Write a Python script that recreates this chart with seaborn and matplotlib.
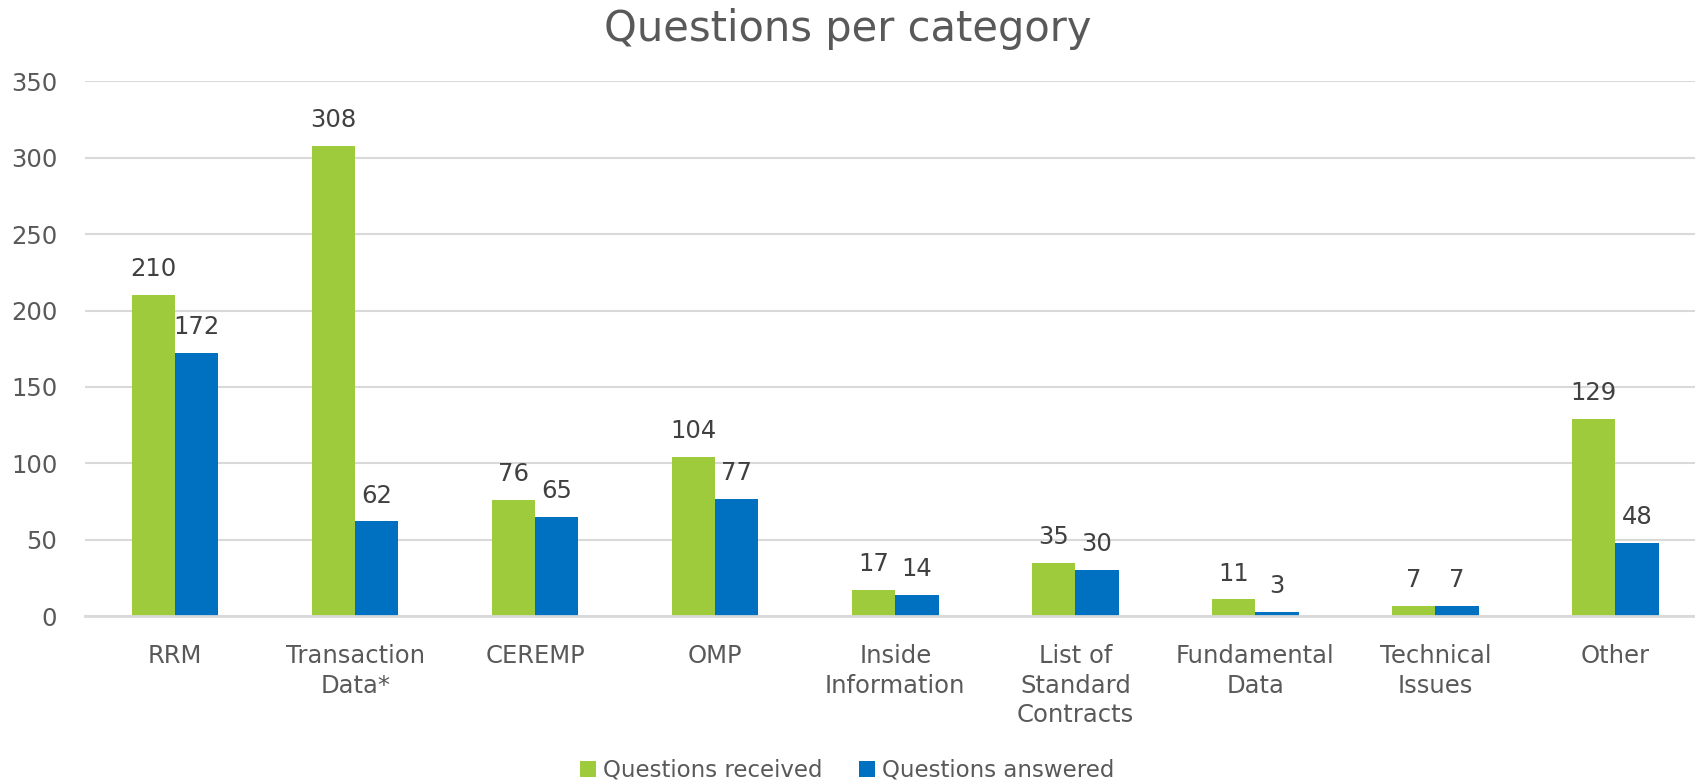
import pandas as pd
import matplotlib.pyplot as plt
import seaborn as sns

categories = ['RRM', 'Transaction\nData*', 'CEREMP', 'OMP', 'Inside\nInformation',
              'List of\nStandard\nContracts', 'Fundamental\nData', 'Technical\nIssues', 'Other']
received = [210, 308, 76, 104, 17, 35, 11, 7, 129]
answered = [172, 62, 65, 77, 14, 30, 3, 7, 48]
series = ['Questions received', 'Questions answered']

df = pd.DataFrame({
    'category': categories * 2,
    'value': received + answered,
    'series': [series[0]] * len(categories) + [series[1]] * len(categories),
})

sns.set_style('white')
plt.rcParams['font.family'] = ['DejaVu Sans']

fig = plt.figure(figsize=(16.95, 7.82), dpi=100)
ax = fig.add_axes([0.0502, 0.212, 0.956, 0.684])

palette = {series[0]: '#9ECB3B', series[1]: '#0070C0'}
sns.barplot(data=df, x='category', y='value', hue='series', palette=palette,
            width=0.48, gap=0, saturation=1, linewidth=0, ax=ax, legend=True)

# подписи значений над столбцами
for c in ax.containers:
    ax.bar_label(c, padding=10, fontsize=17.5, color='#404040')

ax.set_ylim(0, 350)
ax.set_xlim(-0.5, 8.5)
ax.set_yticks(range(0, 351, 50))
ax.yaxis.grid(True, color='#D9D9D9', linewidth=1.5)
ax.set_axisbelow(True)
for s in ['top', 'right', 'left']:
    ax.spines[s].set_visible(False)
ax.spines['bottom'].set_color('#D9D9D9')
ax.spines['bottom'].set_linewidth(2)
ax.set_xlabel('')
ax.set_ylabel('')
ax.tick_params(axis='both', length=0, labelsize=17.5, labelcolor='#595959')
ax.tick_params(axis='x', pad=20)
ax.tick_params(axis='y', pad=20)
for lbl in ax.get_xticklabels():
    lbl.set_linespacing(1.3)
    lbl.set_verticalalignment('top')

fig.suptitle('Questions per category', fontsize=30, color='#595959', y=0.99)

ax.legend(loc='center', ncol=2, frameon=False, fontsize=16.5, labelcolor='#595959',
          handlelength=0.7, handleheight=0.7, handletextpad=0.3, columnspacing=1.6)
leg = ax.get_legend()
leg.set_bbox_to_anchor((0.5, 0.015), transform=fig.transFigure)

fig.savefig('out.png', dpi=100)
